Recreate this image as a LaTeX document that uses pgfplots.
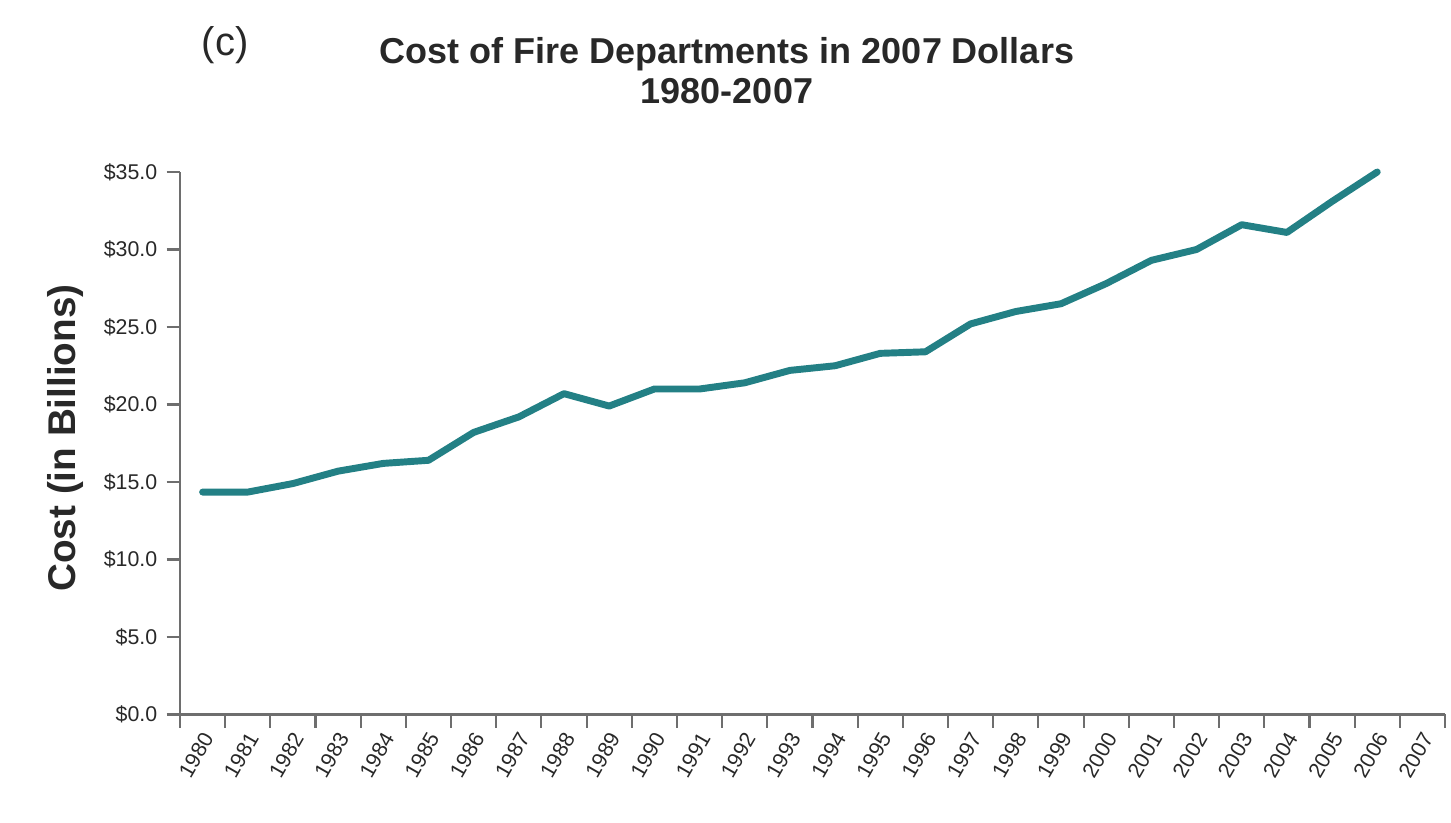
\documentclass[border=0pt]{standalone}
\usepackage{pgfplots}
\pgfplotsset{compat=1.18}
\usepackage{fontspec}
\setmainfont{Liberation Sans}
\definecolor{teal1}{RGB}{35,128,133}
\definecolor{axgray}{RGB}{110,110,110}
\definecolor{txt}{RGB}{40,40,40}
\begin{document}
\begin{tikzpicture}
\useasboundingbox (0,0) rectangle (1451*0.375pt,823*0.375pt);
\node[font=\fontsize{15}{17}\selectfont, text=txt] at (225*0.375pt,778*0.375pt) {(c)};
\node[font=\bfseries\fontsize{13.5}{16}\selectfont, text=txt, align=center, xscale=1] at (727*0.375pt,752*0.375pt) {Cost of Fire Departments in 2007 Dollars\\[-1pt]1980-2007};
\node[font=\bfseries\fontsize{14.5}{16}\selectfont, text=txt, rotate=90] at (66*0.375pt,385*0.375pt) {Cost (in Billions)};
\begin{axis}[
  at={(180*0.375pt,108.5*0.375pt)}, anchor=south west,
  scale only axis, width=1265*0.375pt, height=542.5*0.375pt,
  xmin=-0.5, xmax=27.5, ymin=0, ymax=35,
  axis x line*=bottom, axis y line*=left,
  axis line style={axgray, line width=1.1pt},
  xtick={0,...,27},
  xticklabels={1980,1981,1982,1983,1984,1985,1986,1987,1988,1989,1990,1991,1992,1993,1994,1995,1996,1997,1998,1999,2000,2001,2002,2003,2004,2005,2006,2007},
  major x tick style={draw=none},
  minor xtick={-0.5,0.5,...,27.5},
  minor tick length=5pt,
  minor tick style={axgray, line width=0.8pt},
  ytick={0,5,...,35},
  yticklabels={\$0.0,\$5.0,\$10.0,\$15.0,\$20.0,\$25.0,\$30.0,\$35.0},
  major y tick style={axgray, line width=0.8pt},
  major tick length=5pt,
  tick align=outside,
  x tick label style={rotate=60, anchor=east, font=\fontsize{8}{9}\selectfont, text=txt, inner sep=1pt, yshift=-3pt},
  y tick label style={font=\fontsize{8}{9}\selectfont, text=txt},
  clip=false,
]
\addplot[teal1, line width=2.6pt, line join=round, line cap=round] coordinates {
(0,14.35) (1,14.35) (2,14.9) (3,15.7) (4,16.2) (5,16.4) (6,18.2) (7,19.2) (8,20.7)
(9,19.9) (10,21.0) (11,21.0) (12,21.4) (13,22.2) (14,22.5) (15,23.3) (16,23.4)
(17,25.2) (18,26.0) (19,26.5) (20,27.8) (21,29.3) (22,30.0) (23,31.6) (24,31.1)
(25,33.1) (26,35.0)
};
\end{axis}
\end{tikzpicture}
\end{document}
